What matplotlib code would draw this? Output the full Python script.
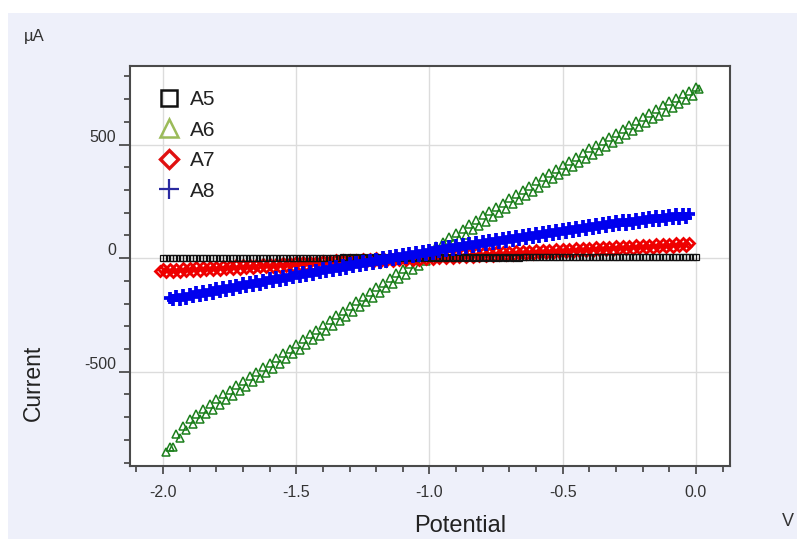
import numpy as np
import matplotlib
matplotlib.use("Agg")
import matplotlib.pyplot as plt
from matplotlib.lines import Line2D
from matplotlib.patches import Rectangle
from matplotlib.ticker import MultipleLocator, FormatStrFormatter, FuncFormatter

nan = np.nan

# ---- data (potential in V, current in µA) ----
# forward-scan samples: -2.000 .. 0.000 (81 pts)
potential_fwd = [
    -2.000, -1.975, -1.950, -1.925, -1.900, -1.875, -1.850, -1.825, -1.800, -1.775,
    -1.750, -1.725, -1.700, -1.675, -1.650, -1.625, -1.600, -1.575, -1.550, -1.525,
    -1.500, -1.475, -1.450, -1.425, -1.400, -1.375, -1.350, -1.325, -1.300, -1.275,
    -1.250, -1.225, -1.200, -1.175, -1.150, -1.125, -1.100, -1.075, -1.050, -1.025,
    -1.000, -0.975, -0.950, -0.925, -0.900, -0.875, -0.850, -0.825, -0.800, -0.775,
    -0.750, -0.725, -0.700, -0.675, -0.650, -0.625, -0.600, -0.575, -0.550, -0.525,
    -0.500, -0.475, -0.450, -0.425, -0.400, -0.375, -0.350, -0.325, -0.300, -0.275,
    -0.250, -0.225, -0.200, -0.175, -0.150, -0.125, -0.100, -0.075, -0.050, -0.025,
    0.000]
# reverse-scan samples: -2.0125 .. 0.0125 (82 pts)
potential_rev = [
    -2.0125, -1.9875, -1.9625, -1.9375, -1.9125, -1.8875, -1.8625, -1.8375, -1.8125, -1.7875,
    -1.7625, -1.7375, -1.7125, -1.6875, -1.6625, -1.6375, -1.6125, -1.5875, -1.5625, -1.5375,
    -1.5125, -1.4875, -1.4625, -1.4375, -1.4125, -1.3875, -1.3625, -1.3375, -1.3125, -1.2875,
    -1.2625, -1.2375, -1.2125, -1.1875, -1.1625, -1.1375, -1.1125, -1.0875, -1.0625, -1.0375,
    -1.0125, -0.9875, -0.9625, -0.9375, -0.9125, -0.8875, -0.8625, -0.8375, -0.8125, -0.7875,
    -0.7625, -0.7375, -0.7125, -0.6875, -0.6625, -0.6375, -0.6125, -0.5875, -0.5625, -0.5375,
    -0.5125, -0.4875, -0.4625, -0.4375, -0.4125, -0.3875, -0.3625, -0.3375, -0.3125, -0.2875,
    -0.2625, -0.2375, -0.2125, -0.1875, -0.1625, -0.1375, -0.1125, -0.0875, -0.0625, -0.0375,
    -0.0125, 0.0125]

a5_fwd = [1] * 13 + [2] * 14 + [3] * 14 + [4] * 14 + [5] * 14 + [6] * 12
a5_rev = [nan] + [-1] * 13 + [0] * 14 + [1] * 14 + [2] * 13 + [3] * 13 + [4] * 13 + [nan]

a6_fwd = [
    nan, -830, -775, -737, -707, -685, -662, -641, -620, -600,
    -580, -560, -540, -520, -500, -480, -460, -440, -419, -399,
    -378, -357, -336, -315, -294, -273, -252, -231, -210, -190,
    -169, -149, -128, -108, -87, -67, -47, -27, -7, 13,
    33, 52, 72, 91, 111, 130, 150, 169, 188, 207,
    226, 245, 264, 282, 301, 319, 338, 356, 375, 393,
    411, 429, 447, 465, 483, 500, 518, 535, 553, 570,
    588, 605, 622, 639, 656, 673, 690, 706, 722, 738,
    752]
a6_rev = [
    nan, -852, -833, -790, -758, -732, -709, -688, -667, -646,
    -626, -606, -586, -566, -546, -526, -506, -486, -465, -445,
    -424, -404, -383, -362, -341, -320, -299, -278, -257, -236,
    -215, -195, -174, -154, -133, -113, -93, -73, -53, -33,
    -13, 7, 26, 46, 65, 85, 104, 123, 142, 161,
    180, 199, 218, 237, 256, 274, 293, 311, 330, 348,
    366, 384, 402, 420, 438, 456, 473, 491, 508, 526,
    543, 560, 577, 594, 611, 628, 645, 662, 679, 695,
    712, 745]

a7_fwd = [
    -49, -47, -46, -44, -43, -41, -40, -38, -37, -35,
    -34, -32, -31, -30, -28, -27, -25, -24, -22, -21,
    -19, -18, -16, -15, -13, -12, -10, -9, -7, -6,
    -4, -3, -1, 0, 2, 3, 5, 6, 8, 9,
    10, 12, 13, 15, 16, 18, 19, 21, 22, 24,
    25, 27, 28, 30, 31, 33, 34, 36, 37, 39,
    40, 42, 43, 45, 46, 48, 49, 51, 52, 53,
    55, 56, 58, 59, 61, 62, 64, 65, 67, 68,
    nan]
a7_rev = [
    -55, -62, -61, -59, -58, -56, -55, -53, -52, -50,
    -49, -47, -46, -44, -43, -41, -40, -38, -37, -35,
    -34, -32, -31, -29, -28, -26, -25, -23, -22, -20,
    -19, -17, -16, -15, -13, -12, -10, -9, -7, -6,
    -4, -3, -1, 0, 2, 3, 5, 6, 8, 9,
    11, 12, 14, 15, 17, 18, 20, 21, 22, 24,
    25, 27, 28, 30, 31, 33, 34, 36, 37, 39,
    40, 42, 43, 45, 46, 48, 49, 51, 52, 54,
    nan, nan]

a8_fwd = [
    nan, -174, -168, -162, -156, -150, -145, -139, -133, -127,
    -122, -116, -110, -105, -99, -94, -88, -83, -77, -72,
    -66, -61, -55, -50, -44, -39, -34, -28, -23, -18,
    -13, -7, -2, 3, 8, 13, 18, 23, 28, 33,
    38, 43, 48, 52, 57, 62, 67, 71, 76, 81,
    85, 90, 94, 99, 103, 108, 112, 116, 121, 125,
    129, 133, 138, 142, 146, 150, 154, 158, 162, 166,
    170, 173, 177, 180, 184, 187, 190, 193, 195, 196,
    nan]
a8_rev = [
    nan, nan, -186, -185, -179, -173, -167, -162, -156, -150,
    -144, -139, -133, -127, -122, -116, -111, -105, -100, -94,
    -89, -83, -78, -72, -67, -61, -56, -51, -46, -40,
    -35, -30, -25, -20, -15, -10, -5, 1, 6, 11,
    16, 20, 25, 30, 35, 39, 44, 49, 54, 58,
    63, 67, 72, 76, 81, 85, 90, 94, 98, 103,
    107, 111, 115, 120, 124, 128, 132, 136, 140, 144,
    148, 151, 155, 159, 162, 165, 168, 171, 174, 177,
    nan, nan]

series_names = ["A5", "A6", "A7", "A8"]

# ---- figure ----
W, H = 797, 539
fig = plt.figure(figsize=(W / 100, H / 100), dpi=100)
fig.patch.set_facecolor("white")
fig.add_artist(Rectangle((8 / W, 0), 1 - 8 / W, (H - 13) / H, transform=fig.transFigure,
                         facecolor="#eef0fa", edgecolor="none", zorder=-10))

ax = fig.add_axes([130 / W, (H - 466) / H, 600 / W, 400 / H])
ax.set_facecolor("white")


def combined(ya, yb):
    x = np.concatenate([np.asarray(potential_fwd, float), np.asarray(potential_rev, float)])
    y = np.concatenate([np.asarray(ya, float), np.asarray(yb, float)])
    return x, y


x6, y6 = combined(a6_fwd, a6_rev)
x7, y7 = combined(a7_fwd, a7_rev)
x5, y5 = combined(a5_fwd, a5_rev)
x8, y8 = combined(a8_fwd, a8_rev)

ax.plot(x6, y6, ls="none", marker="^", ms=6.3, mfc="none", mec="#1b7f1b", mew=1.1, zorder=3)
ax.plot(x7, y7, ls="none", marker="D", ms=4.8, mfc="none", mec="#ee0000", mew=2.0, zorder=4)
ax.plot(x5, y5, ls="none", marker="s", ms=5.0, mfc="none", mec="#111111", mew=0.9, zorder=5)
ax.plot(x8, y8, ls="none", marker="+", ms=8.2, mec="#0000ee", mew=2.7, zorder=6)

ax.set_xlim(-2.124, 0.128)
ax.set_ylim(-915, 846)

ax.xaxis.set_major_locator(MultipleLocator(0.5))
ax.xaxis.set_minor_locator(MultipleLocator(0.1))
ax.yaxis.set_major_locator(MultipleLocator(500))
ax.yaxis.set_minor_locator(MultipleLocator(100))
ax.xaxis.set_major_formatter(FormatStrFormatter("%.1f"))
ax.yaxis.set_major_formatter(FuncFormatter(lambda v, p: f"{int(round(v))}"))

ax.grid(True, which="major", color="#dcdcdc", lw=1.0, zorder=0)
ax.set_axisbelow(True)

for s in ax.spines.values():
    s.set_color("#4a4a4a")
    s.set_linewidth(1.5)

ax.tick_params(axis="x", which="major", direction="out", length=5.5, width=1.2,
               color="#404040", pad=8, labelsize=11.5, labelcolor="#333333")
ax.tick_params(axis="x", which="minor", direction="out", length=4.5, width=1.2, color="#404040")
ax.tick_params(axis="y", which="major", direction="out", length=8, width=1.2,
               color="#404040", pad=2, labelsize=11.5, labelcolor="#333333")
ax.tick_params(axis="y", which="minor", direction="out", length=4.5, width=1.2, color="#404040")
for lab in ax.get_xticklabels() + ax.get_yticklabels():
    lab.set_fontfamily("Liberation Sans")
for lab in ax.get_yticklabels():
    lab.set_verticalalignment("bottom")

# legend
handles = [
    Line2D([], [], ls="none", marker="s", ms=11, mfc="none", mec="#111111", mew=1.8),
    Line2D([], [], ls="none", marker="^", ms=13, mfc="none", mec="#9bbb59", mew=1.8),
    Line2D([], [], ls="none", marker="D", ms=9, mfc="none", mec="#e01010", mew=2.4),
    Line2D([], [], ls="none", marker="+", ms=15, mec="#2a2aa0", mew=1.6),
]
leg = ax.legend(handles, series_names, loc="upper left", bbox_to_anchor=(0.033, 0.96),
                frameon=False, handlelength=1.0, handletextpad=0.55,
                labelspacing=0.55, borderaxespad=0.0,
                prop={"family": "Liberation Sans", "size": 15})
for t in leg.get_texts():
    t.set_color("#222222")

# axis texts
fig.text(460 / W, 1 - 526 / H, "Potential", ha="center", va="center",
         fontsize=17, family="Liberation Sans", color="#222222")
fig.text(33 / W, 1 - 383 / H, "Current", ha="center", va="center", rotation=90,
         fontsize=16.5, family="Liberation Sans", color="#222222")
fig.text(24 / W, 1 - 37 / H, "µA", ha="left", va="center",
         fontsize=12, family="Liberation Sans", color="#333333")
fig.text(788 / W, 1 - 522 / H, "V", ha="center", va="center",
         fontsize=13, family="Liberation Sans", color="#333333")

fig.savefig("out.png", dpi=100, facecolor=fig.get_facecolor())
